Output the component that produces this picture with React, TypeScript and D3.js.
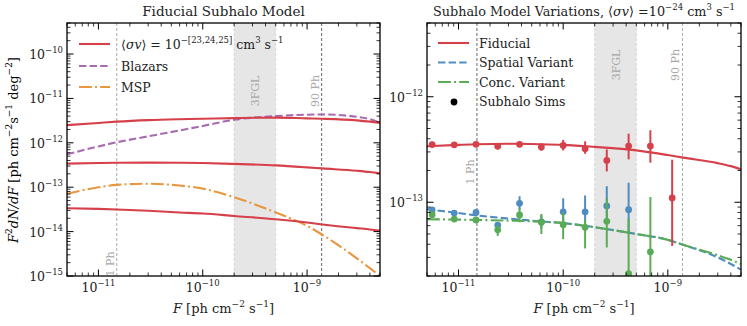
import React from 'react'
import * as d3 from 'd3'

// flux grid for the model curves [ph cm^-2 s^-1]
const fluxGrid = [5e-12, 1e-11, 1.5e-11, 3e-11, 6e-11, 1e-10, 2e-10, 5e-10, 1e-9, 1.4e-9, 3e-9, 4e-9, 5e-9]

const sv23 = [2.5e-12, 2.8e-12, 3.0e-12, 3.25e-12, 3.4e-12, 3.48e-12, 3.6e-12, 3.7e-12, 3.55e-12, 3.48e-12, 3.2e-12, 3.0e-12, 2.8e-12]
const sv24 = [3.4e-13, 3.5e-13, 3.55e-13, 3.58e-13, 3.55e-13, 3.5e-13, 3.35e-13, 3.1e-13, 2.8e-13, 2.65e-13, 2.35e-13, 2.2e-13, 2.05e-13]
const sv25 = [3.35e-14, 3.25e-14, 3.15e-14, 2.95e-14, 2.7e-14, 2.55e-14, 2.25e-14, 1.9e-14, 1.6e-14, 1.45e-14, 1.2e-14, 1.12e-14, 1.05e-14]
const blazars = [5.5e-13, 8.3e-13, 1.03e-12, 1.4e-12, 1.9e-12, 2.4e-12, 3.3e-12, 4.0e-12, 4.3e-12, 4.35e-12, 3.85e-12, 3.4e-12, 2.8e-12]
const msp = [7.1e-14, 1.0e-13, 1.13e-13, 1.2e-13, 1.09e-13, 9.3e-14, 5.95e-14, 2.7e-14, 1.35e-14, 8.5e-15, 2.5e-15, 1.5e-15, 1.0e-15]
const spatial = [8.6e-14, 7.9e-14, 7.5e-14, 7.0e-14, 6.6e-14, 6.35e-14, 5.8e-14, 5.0e-14, 4.4e-14, 3.95e-14, 3.0e-14, 2.6e-14, 2.3e-14]
const conc = [6.9e-14, 6.85e-14, 6.8e-14, 6.7e-14, 6.55e-14, 6.35e-14, 5.8e-14, 5.0e-14, 4.4e-14, 3.95e-14, 3.15e-14, 2.85e-14, 2.6e-14]

// subhalo simulation points
const simFlux = [5.6e-12, 9.1e-12, 1.47e-11, 2.37e-11, 3.83e-11, 6.19e-11, 1e-10, 1.62e-10, 2.61e-10, 4.22e-10, 6.81e-10, 1.1e-9]
const fidSim = [3.52e-13, 3.5e-13, 3.54e-13, 3.39e-13, 3.54e-13, 3.34e-13, 3.46e-13, 3.22e-13, 2.49e-13, 3.41e-13, 3.41e-13, 1.1e-13]
const fidLo = [3.42e-13, 3.4e-13, 3.44e-13, 3.29e-13, 3.44e-13, 3.08e-13, 3.1e-13, 2.88e-13, 1.96e-13, 2.55e-13, 2.37e-13, 3.86e-14]
const fidHi = [3.62e-13, 3.6e-13, 3.64e-13, 3.49e-13, 3.64e-13, 3.59e-13, 3.9e-13, 3.78e-13, 3.17e-13, 4.47e-13, 4.81e-13, 2.53e-13]
const spaSim = [8.45e-14, 7.9e-14, 8.0e-14, 6.08e-14, 9.77e-14, 6.5e-14, 8.12e-14, 8.12e-14, 9.22e-14, 8.5e-14]
const spaLo = [8.2e-14, 7.65e-14, 7.75e-14, 5.7e-14, 8.5e-14, 5.6e-14, 6.08e-14, 6.08e-14, 6.93e-14, 5.18e-14]
const spaHi = [8.7e-14, 8.15e-14, 8.25e-14, 6.5e-14, 1.14e-13, 7.5e-14, 1.09e-13, 1.16e-13, 1.42e-13, 1.53e-13]
const conSim = [7.62e-14, 6.93e-14, 6.8e-14, 5.48e-14, 7.57e-14, 6.46e-14, 6.12e-14, 5.78e-14, 6.6e-14, 2.11e-14, 3.39e-14]
const conLo = [7.3e-14, 6.7e-14, 6.55e-14, 4.8e-14, 6.46e-14, 5.0e-14, 4.47e-14, 3.65e-14, 3.73e-14, 1.0e-14, 1.0e-14]
const conHi = [7.95e-14, 7.15e-14, 7.05e-14, 6.08e-14, 8.85e-14, 7.74e-14, 8.0e-14, 6.93e-14, 1.09e-13, 6.93e-14, 1.12e-13]

const xTicks = [1e-11, 1e-10, 1e-9]
const xTickExp = ['\u221211', '\u221210', '\u22129']
const leftYTicks = [1e-15, 1e-14, 1e-13, 1e-12, 1e-11, 1e-10]
const leftYExp = ['\u221215', '\u221214', '\u221213', '\u221212', '\u221211', '\u221210']
const rightYTicks = [1e-13, 1e-12]
const rightYExp = ['\u221213', '\u221212']

const onePh = 1.5e-11
const ninetyPh = 1.38e-9
const band3fgl = [2e-10, 5e-10]

const RED = '#d6404a'
const PURPLE = '#a86bb0'
const ORANGE = '#e89640'
const BLUE = '#4f8cc0'
const GREEN = '#5aab55'
const DASH = '7.4,3.2'
const DASHDOT = '12.8,3.2,2,3.2'
const FONT = "'DejaVu Serif', serif"

function minorTicks(lo: number, hi: number) {
  const out: number[] = []
  for (let e = Math.floor(Math.log10(lo)); e <= Math.ceil(Math.log10(hi)); e++) {
    for (let m = 1; m < 10; m++) {
      const v = m * Math.pow(10, e)
      if (v >= lo * 0.999 && v <= hi * 1.001) out.push(v)
    }
  }
  return out
}

function Panel({ id, left, right, top, bottom, yDomain, yTicks, yExp, children, labels }: any) {
  const x = d3.scaleLog().domain([5e-12, 5e-9]).range([left, right])
  const y = d3.scaleLog().domain(yDomain).range([bottom, top])
  const xMinor = minorTicks(5e-12, 5e-9)
  const yMinor = minorTicks(yDomain[0], yDomain[1])
  const isMajor = (v: number) => Math.abs(Math.log10(v) - Math.round(Math.log10(v))) < 1e-6
  return (
    <g>
      <defs>
        <clipPath id={id}>
          <rect x={left} y={top} width={right - left} height={bottom - top} />
        </clipPath>
      </defs>
      <g clipPath={`url(#${id})`}>
        <rect x={x(band3fgl[0])} y={top} width={x(band3fgl[1]) - x(band3fgl[0])} height={bottom - top} fill="#e6e6e6" />
        {band3fgl.map((b, i) => (
          <line key={i} x1={x(b)} x2={x(b)} y1={top} y2={bottom} stroke="#d0d0d0" strokeWidth={0.8} strokeDasharray="3,2" />
        ))}
        <line x1={x(onePh)} x2={x(onePh)} y1={top} y2={bottom} stroke={labels.onePhColor} strokeWidth={1} strokeDasharray="3,2" />
        <line x1={x(ninetyPh)} x2={x(ninetyPh)} y1={top} y2={bottom} stroke={labels.ninetyColor} strokeWidth={1} strokeDasharray="3,2" />
        <g fill="#a8a8a8" fontSize={11} fontFamily={FONT} textAnchor="middle">
          <text transform={`translate(${(x(band3fgl[0]) + x(band3fgl[1])) / 2 + 4},${labels.fglY}) rotate(-90)`}>3FGL</text>
          <text transform={`translate(${x(ninetyPh) - 3},${labels.fglY}) rotate(-90)`}>90 Ph</text>
          <text transform={`translate(${x(onePh) - 3},${labels.onePhY}) rotate(-90)`}>1 Ph</text>
        </g>
        {children(x, y)}
      </g>
      <rect x={left} y={top} width={right - left} height={bottom - top} fill="none" stroke="#000" strokeWidth={1.3} />
      {xMinor.map((v, i) => {
        const len = isMajor(v) ? 6.5 : 3.5
        return (
          <g key={i} stroke="#000" strokeWidth={isMajor(v) ? 1 : 0.8}>
            <line x1={x(v)} x2={x(v)} y1={bottom} y2={bottom - len} />
            <line x1={x(v)} x2={x(v)} y1={top} y2={top + len} />
          </g>
        )
      })}
      {yMinor.map((v, i) => {
        const len = isMajor(v) ? 6.5 : 3.5
        return (
          <g key={i} stroke="#000" strokeWidth={isMajor(v) ? 1 : 0.8}>
            <line x1={left} x2={left + len} y1={y(v)} y2={y(v)} />
            <line x1={right} x2={right - len} y1={y(v)} y2={y(v)} />
          </g>
        )
      })}
      <g fontFamily={FONT} fill="#222">
        {xTicks.map((v, i) => (
          <text key={i} x={x(v)} y={bottom + 16} textAnchor="middle" fontSize={12.5}>
            10<tspan dy={-6} fontSize={8.5}>{xTickExp[i]}</tspan>
          </text>
        ))}
        {yTicks.map((v: number, i: number) => (
          <text key={i} x={left - 4} y={y(v) + 5} textAnchor="end" fontSize={12.5}>
            10<tspan dy={-6} fontSize={8.5}>{yExp[i]}</tspan>
          </text>
        ))}
        <text x={(left + right) / 2} y={313} textAnchor="middle" fontSize={13}>
          <tspan fontStyle="italic">F</tspan> [ph cm<tspan dy={-6} fontSize={9}>{'\u22122'}</tspan>
          <tspan dy={6}> s</tspan><tspan dy={-6} fontSize={9}>{'\u22121'}</tspan><tspan dy={6}>]</tspan>
        </text>
      </g>
    </g>
  )
}

function curve(x: any, y: any, vals: number[]) {
  return d3
    .line<number>()
    .x((_, i) => x(fluxGrid[i]))
    .y(d => y(d))
    .curve(d3.curveMonotoneX)(vals) as string
}

function Sims({ x, y, vals, lo, hi, color }: any) {
  return (
    <g>
      {vals.map((v: number, i: number) => (
        <g key={i}>
          <line x1={x(simFlux[i])} x2={x(simFlux[i])} y1={y(lo[i])} y2={y(hi[i])} stroke={color} strokeWidth={2} />
          <circle cx={x(simFlux[i])} cy={y(v)} r={3.4} fill={color} />
        </g>
      ))}
    </g>
  )
}

export default function App() {
  return (
    <svg width={747} height={326} style={{ position: 'absolute', left: 0, top: 0, background: '#fff' }}>
      <g fontFamily={FONT} fill="#222" textAnchor="middle">
        <text x={223.5} y={16} fontSize={13.5}>Fiducial Subhalo Model</text>
        <text x={584} y={16} fontSize={12.8}>
          Subhalo Model Variations, {'\u27E8'}<tspan fontStyle="italic">{'\u03C3v'}</tspan>{'\u27E9'} =10
          <tspan dy={-6} fontSize={8.5}>{'\u221224'}</tspan>
          <tspan dy={6}> cm</tspan><tspan dy={-6} fontSize={8.5}>3</tspan>
          <tspan dy={6}> s</tspan><tspan dy={-6} fontSize={8.5}>{'\u22121'}</tspan>
        </text>
      </g>
      <text transform="translate(18,150) rotate(-90)" textAnchor="middle" fontFamily={FONT} fontSize={13}>
        <tspan fontStyle="italic">F</tspan><tspan dy={-6} fontSize={9}>2</tspan>
        <tspan dy={6} fontStyle="italic">dN/dF</tspan> [ph cm<tspan dy={-6} fontSize={9}>{'\u22122'}</tspan>
        <tspan dy={6}>s</tspan><tspan dy={-6} fontSize={9}>{'\u22121'}</tspan>
        <tspan dy={6}> deg</tspan><tspan dy={-6} fontSize={9}>{'\u22122'}</tspan><tspan dy={6}>]</tspan>
      </text>

      <Panel
        id="clipL"
        left={67}
        right={380}
        top={23}
        bottom={276}
        yDomain={[1e-15, 5e-10]}
        yTicks={leftYTicks}
        yExp={leftYExp}
        labels={{ fglY: 91, onePhY: 264, onePhColor: '#aaa', ninetyColor: '#666' }}
      >
        {(x: any, y: any) => (
          <g fill="none" strokeWidth={2.1}>
            <path d={curve(x, y, blazars)} stroke={PURPLE} strokeDasharray={DASH} />
            <path d={curve(x, y, msp)} stroke={ORANGE} strokeDasharray={DASHDOT} />
            <path d={curve(x, y, sv23)} stroke={RED} />
            <path d={curve(x, y, sv24)} stroke={RED} />
            <path d={curve(x, y, sv25)} stroke={RED} />
          </g>
        )}
      </Panel>

      <Panel
        id="clipR"
        left={427}
        right={741}
        top={23}
        bottom={276}
        yDomain={[2e-14, 5e-12]}
        yTicks={rightYTicks}
        yExp={rightYExp}
        labels={{ fglY: 65, onePhY: 172, onePhColor: '#666', ninetyColor: '#aaa' }}
      >
        {(x: any, y: any) => (
          <g>
            <g fill="none" strokeWidth={2.1}>
              <path d={curve(x, y, sv24)} stroke={RED} />
              <path d={curve(x, y, spatial)} stroke={BLUE} strokeDasharray={DASH} />
              <path d={curve(x, y, conc)} stroke={GREEN} strokeDasharray={DASHDOT} />
            </g>
            <Sims x={x} y={y} vals={spaSim} lo={spaLo} hi={spaHi} color={BLUE} />
            <Sims x={x} y={y} vals={conSim} lo={conLo} hi={conHi} color={GREEN} />
            <Sims x={x} y={y} vals={fidSim} lo={fidLo} hi={fidHi} color={RED} />
          </g>
        )}
      </Panel>

      {/* left legend */}
      <g fontFamily={FONT} fontSize={12.5} fill="#222">
        <line x1={79} x2={110} y1={44} y2={44} stroke={RED} strokeWidth={2.1} />
        <line x1={79} x2={110} y1={66} y2={66} stroke={PURPLE} strokeWidth={2.1} strokeDasharray={DASH} />
        <line x1={79} x2={110} y1={87} y2={87} stroke={ORANGE} strokeWidth={2.1} strokeDasharray={DASHDOT} />
        <text x={121} y={48.5}>
          {'\u27E8'}<tspan fontStyle="italic">{'\u03C3v'}</tspan>{'\u27E9'} = 10
          <tspan dy={-6} fontSize={8.5}>{'\u2212[23,24,25]'}</tspan>
          <tspan dy={6}> cm</tspan><tspan dy={-6} fontSize={8.5}>3</tspan>
          <tspan dy={6}> s</tspan><tspan dy={-6} fontSize={8.5}>{'\u22121'}</tspan>
        </text>
        <text x={121} y={70.5}>Blazars</text>
        <text x={121} y={91.5}>MSP</text>
      </g>

      {/* right legend */}
      <g fontFamily={FONT} fontSize={12.5} fill="#222">
        <line x1={438} x2={469} y1={43} y2={43} stroke={RED} strokeWidth={2.1} />
        <line x1={438} x2={469} y1={62.5} y2={62.5} stroke={BLUE} strokeWidth={2.1} strokeDasharray={DASH} />
        <line x1={438} x2={469} y1={82} y2={82} stroke={GREEN} strokeWidth={2.1} strokeDasharray={DASHDOT} />
        <circle cx={454} cy={102} r={3.4} fill="#000" />
        <text x={479} y={47.5}>Fiducial</text>
        <text x={479} y={67}>Spatial Variant</text>
        <text x={479} y={86.5}>Conc. Variant</text>
        <text x={479} y={106}>Subhalo Sims</text>
      </g>
    </svg>
  )
}
